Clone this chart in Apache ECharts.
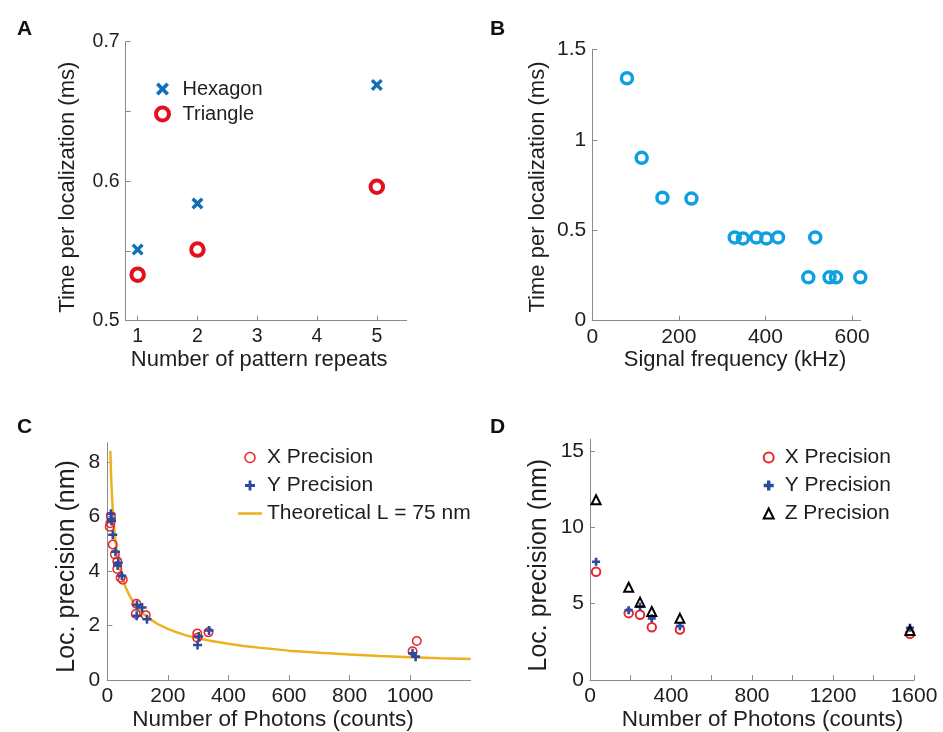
<!DOCTYPE html>
<html lang="en">
<head>
<meta charset="UTF-8">
<title>Localization panels</title>
<style>
  html, body { margin: 0; padding: 0; background: #fff; }
  #chart { width: 943px; height: 732px; }
</style>
</head>
<body>
<div id="chart"></div>
<script src="https://cdn.jsdelivr.net/npm/echarts@6/dist/echarts.min.js"></script>
<script>
// ---- panel A: time per localization vs pattern repeats
var repeats = [1, 2, 5];
var hexagonTime = [0.551, 0.584, 0.669];
var triangleTime = [0.533, 0.551, 0.596];

// ---- panel B: time per localization vs signal frequency
var freqKHz = [80, 114, 162, 229, 329, 348, 379, 402, 429, 515, 499, 548, 563, 619];
var freqTime = [1.34, 0.90, 0.68, 0.675, 0.46, 0.455, 0.46, 0.455, 0.46, 0.46, 0.24, 0.24, 0.24, 0.24];

// ---- panel C: 2D precision vs photons
var cPhotonsX = [12, 10, 8, 18, 25, 33, 33, 44, 51, 96, 94, 127, 297, 297, 334, 1008, 1022];
var cPrecX = [6.0, 5.75, 5.62, 4.97, 4.6, 4.35, 4.07, 3.75, 3.68, 2.8, 2.42, 2.38, 1.71, 1.55, 1.75, 1.06, 1.43];
var cPhotonsY = [12, 13, 14, 18, 27, 36, 34, 48, 98, 115, 97, 131, 298, 302, 336, 1008, 1018];
var cPrecY = [6.1, 5.9, 5.83, 5.33, 4.7, 4.3, 4.2, 3.82, 2.75, 2.66, 2.36, 2.23, 1.29, 1.6, 1.82, 0.98, 0.86];
// theoretical curve
var theoryPhotons = [10, 11, 12, 13, 14, 16, 18, 20, 23, 26, 30, 35, 40, 45, 50, 60, 70, 80, 90, 100,
  115, 130, 150, 170, 200, 230, 260, 300, 350, 400, 450, 500, 600, 700, 800, 900, 1000, 1100, 1200];
var theoryPrec = [8.4, 8.0, 7.65, 7.35, 7.1, 6.65, 6.25, 5.95, 5.55, 5.2, 4.85, 4.5, 4.2, 3.95, 3.75,
  3.42, 3.17, 2.97, 2.8, 2.65, 2.47, 2.33, 2.17, 2.03, 1.88, 1.75, 1.64, 1.53, 1.42, 1.33, 1.25, 1.19,
  1.08, 1.0, 0.94, 0.88, 0.84, 0.8, 0.77];

// ---- panel D: 3D precision vs photons
var dPhotons = [30, 191, 247, 305, 444, 1580];
var dPrecX = [7.09, 4.38, 4.27, 3.46, 3.31, 3.03];
var dPrecY = [7.74, 4.57, 4.81, 4.04, 3.53, 3.42];
var dPrecZ = [11.8, 6.07, 5.1, 4.49, 4.04, 3.25];

function pairs(xs, ys) {
  return xs.map(function (x, i) { return [x, ys[i]]; });
}

var FONT = 'Liberation Sans, Arial, sans-serif';
var AXIS_GREY = '#8a8a8a';
var TEXT = '#1e1e1e';
var RED = '#e3101c';
var BLUE_A = '#0f6fb8';
var CYAN = '#0ea0e0';
var RED_C = '#e8262b';
var BLUE_C = '#2b4a9e';
var GOLD = '#edb120';
var NOFILL = 'rgba(255,255,255,0)';

var xShape = 'path://M0,2L2,0L5,3L8,0L10,2L7,5L10,8L8,10L5,7L2,10L0,8L3,5Z';
var plusShape = 'path://M3.6,0H6.4V3.6H10V6.4H6.4V10H3.6V6.4H0V3.6H3.6Z';
var plusFat = 'path://M3.3,0H6.7V3.3H10V6.7H6.7V10H3.3V6.7H0V3.3H3.3Z';
var lineIcon = 'path://M0,0H24V2.6H0Z';

function axisBase(labelSize, nameSize, namePad) {
  return {
    axisLine: { lineStyle: { color: AXIS_GREY, width: 1 } },
    axisTick: { inside: true, length: 5, lineStyle: { color: AXIS_GREY } },
    splitLine: { show: false },
    axisLabel: { color: TEXT, fontFamily: FONT, fontSize: labelSize, margin: 6 },
    nameLocation: 'middle',
    nameTextStyle: { color: TEXT, fontFamily: FONT, fontSize: nameSize, padding: namePad || 0 }
  };
}

function ax(grid, extra, labelSize, nameSize, namePad) {
  var a = axisBase(labelSize, nameSize, namePad);
  a.type = 'value';
  a.gridIndex = grid;
  return Object.assign(a, extra);
}

function letter(text, left, top) {
  return { text: text, left: left, top: top,
    textStyle: { fontFamily: FONT, fontSize: 21, fontWeight: 'bold', color: '#111' } };
}

var chart = echarts.init(document.getElementById('chart'));

var option = {
  animation: false,
  title: [letter('A', 12, 14), letter('B', 485, 14), letter('C', 12, 412), letter('D', 485, 412)],
  grid: [
    { left: 125.7, top: 41.7, width: 281, height: 279 },
    { left: 592.3, top: 49.3, width: 268.4, height: 271.4 },
    { left: 107.3, top: 442.7, width: 363.4, height: 240.6 },
    { left: 590, top: 439.3, width: 324, height: 246.4 }
  ],
  xAxis: [
    ax(0, { min: 0.8, max: 5.5, name: 'Number of pattern repeats', nameGap: 28,
      axisLabel: Object.assign(axisBase(19.5).axisLabel, { showMinLabel: false, showMaxLabel: false }) },
      19.5, 22, [0, 14, 0, 0]),
    ax(1, { min: 0, max: 620, interval: 200, name: 'Signal frequency (kHz)', nameGap: 28,
      axisLabel: Object.assign(axisBase(21).axisLabel, { showMaxLabel: false }) },
      21, 22, [0, 0, 0, 17]),
    ax(2, { min: 0, max: 1200, interval: 200, name: 'Number of Photons (counts)', nameGap: 27,
      axisLabel: Object.assign(axisBase(21).axisLabel, { showMaxLabel: false,
        formatter: function (v) { return String(v); } }) },
      21, 22.5, [0, 32, 0, 0]),
    ax(3, { min: 0, max: 1600, interval: 200, name: 'Number of Photons (counts)', nameGap: 26,
      axisLabel: Object.assign(axisBase(21).axisLabel, {
        formatter: function (v) { return v % 400 === 0 ? String(v) : ''; } }) },
      21, 22.5, [0, 0, 0, 21])
  ],
  yAxis: [
    ax(0, { min: 0.5, max: 0.7, interval: 0.05, name: 'Time per localization (ms)', nameGap: 47,
      axisLabel: Object.assign(axisBase(19.5).axisLabel, {
        formatter: function (v) {
          var r = Math.round(v * 100);
          return r % 10 === 0 ? (r / 100).toFixed(1) : '';
        } }) },
      19.5, 22, [0, 12, 0, 0]),
    ax(1, { min: 0, max: 1.5, interval: 0.5, name: 'Time per localization (ms)', nameGap: 43 },
      21, 22, [0, 4, 0, 0]),
    ax(2, { min: 0, max: 8.7, interval: 2, name: 'Loc. precision (nm)', nameGap: 28,
      axisLabel: Object.assign(axisBase(21).axisLabel, { showMaxLabel: false, margin: 7 }) },
      21, 25, [0, 10, 0, 0]),
    ax(3, { min: 0, max: 15.75, interval: 5, name: 'Loc. precision (nm)', nameGap: 38,
      axisLabel: Object.assign(axisBase(21).axisLabel, { showMaxLabel: false }) },
      21, 25, [0, 11, 0, 0])
  ],
  legend: [
    { left: 149, top: 74, orient: 'vertical', itemWidth: 20, itemHeight: 13, itemGap: 5,
      selectedMode: false,
      textStyle: { fontFamily: FONT, fontSize: 20, color: TEXT, padding: [0, 0, 0, 5] },
      data: [{ name: 'Hexagon', icon: xShape },
             { name: 'Triangle', icon: 'circle', itemStyle: { borderWidth: 4 } }] },
    { left: 233, top: 442, orient: 'vertical', itemWidth: 24, itemHeight: 10, itemGap: 7,
      selectedMode: false,
      textStyle: { fontFamily: FONT, fontSize: 21, color: TEXT },
      data: [{ name: 'X Precision', icon: 'circle', itemStyle: { borderWidth: 1.5 } },
             { name: 'Y Precision', icon: plusShape },
             { name: 'Theoretical L = 75 nm', icon: lineIcon }] },
    { left: 757.7, top: 442, orient: 'vertical', itemWidth: 10, itemHeight: 10, itemGap: 7,
      selectedMode: false,
      textStyle: { fontFamily: FONT, fontSize: 21, color: TEXT, padding: [0, 0, 0, 6] },
      data: [{ name: 'X Precision ', icon: 'circle', itemStyle: { borderWidth: 2 } },
             { name: 'Y Precision ', icon: plusFat },
             { name: 'Z Precision', icon: 'triangle', itemStyle: { borderWidth: 2 } }] }
  ],
  series: [
    { name: 'Hexagon', type: 'scatter', xAxisIndex: 0, yAxisIndex: 0,
      symbol: xShape, symbolSize: 12,
      itemStyle: { color: BLUE_A, opacity: 1 }, data: pairs(repeats, hexagonTime) },
    { name: 'Triangle', type: 'scatter', xAxisIndex: 0, yAxisIndex: 0,
      symbol: 'circle', symbolSize: 12.5,
      itemStyle: { color: NOFILL, borderColor: RED, borderWidth: 4, opacity: 1 },
      data: pairs(repeats, triangleTime) },

    { name: 'Frequency', type: 'scatter', xAxisIndex: 1, yAxisIndex: 1,
      symbol: 'circle', symbolSize: 11,
      itemStyle: { color: NOFILL, borderColor: CYAN, borderWidth: 3.5, opacity: 1 },
      data: pairs(freqKHz, freqTime) },

    { name: 'Theoretical L = 75 nm', type: 'line', xAxisIndex: 2, yAxisIndex: 2,
      symbol: 'none', smooth: false,
      lineStyle: { color: GOLD, width: 2.5 }, itemStyle: { color: GOLD },
      data: pairs(theoryPhotons, theoryPrec), z: 1 },
    { name: 'X Precision', type: 'scatter', xAxisIndex: 2, yAxisIndex: 2,
      symbol: 'circle', symbolSize: 8.5,
      itemStyle: { color: NOFILL, borderColor: RED_C, borderWidth: 1.5, opacity: 1 },
      data: pairs(cPhotonsX, cPrecX), z: 3 },
    { name: 'Y Precision', type: 'scatter', xAxisIndex: 2, yAxisIndex: 2,
      symbol: plusShape, symbolSize: 9,
      itemStyle: { color: BLUE_C, opacity: 1 }, data: pairs(cPhotonsY, cPrecY), z: 4 },

    { name: 'X Precision ', type: 'scatter', xAxisIndex: 3, yAxisIndex: 3,
      symbol: 'circle', symbolSize: 8.5,
      itemStyle: { color: NOFILL, borderColor: RED_C, borderWidth: 2, opacity: 1 },
      data: pairs(dPhotons, dPrecX) },
    { name: 'Y Precision ', type: 'scatter', xAxisIndex: 3, yAxisIndex: 3,
      symbol: plusFat, symbolSize: 8,
      itemStyle: { color: BLUE_C, opacity: 1 }, data: pairs(dPhotons, dPrecY) },
    { name: 'Z Precision', type: 'scatter', xAxisIndex: 3, yAxisIndex: 3,
      symbol: 'triangle', symbolSize: 9,
      itemStyle: { color: NOFILL, borderColor: '#000', borderWidth: 2, opacity: 1 },
      data: pairs(dPhotons, dPrecZ) }
  ]
};

chart.setOption(option);
</script>
</body>
</html>
